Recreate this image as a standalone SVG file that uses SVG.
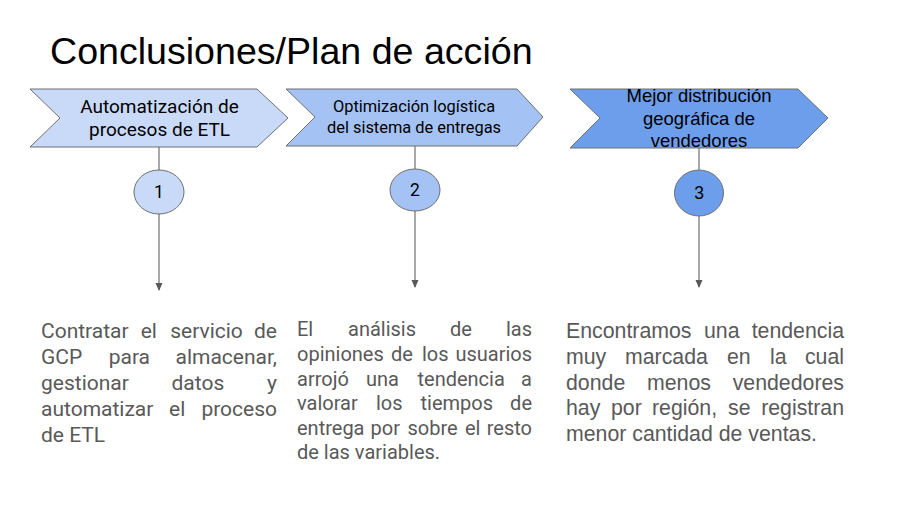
<svg xmlns="http://www.w3.org/2000/svg" width="909" height="505" viewBox="0 0 909 505">
<style>
.chev{stroke:#6f6f6f;stroke-width:1}
.c1{fill:#c9daf8}.c2{fill:#a4c2f4}.c3{fill:#6d9eeb}
.lbl{fill:#000;text-anchor:middle}
.rob{font-family:Roboto,"Liberation Sans",sans-serif}
.ari{font-family:"Liberation Sans",Arial,sans-serif}
.body{fill:#595959}
.conn line{stroke:#7a7a7a;stroke-width:1.3}
</style>
<defs>
<marker id="ah" markerWidth="8" markerHeight="8" refX="7" refY="4" orient="auto" markerUnits="userSpaceOnUse">
<path d="M0,0.5 L8,4 L0,7.5 Z" fill="#595959"/>
</marker>
</defs>
<rect width="909" height="505" fill="#fff"/>
<text x="50" y="64" class="ari" font-size="37.6" fill="#000">Conclusiones/Plan de acción</text>

<g class="conn">
<line x1="159" y1="147" x2="159" y2="170"/>
<line x1="159" y1="214" x2="159" y2="290" marker-end="url(#ah)"/>
<line x1="415" y1="146" x2="415" y2="169"/>
<line x1="415" y1="211" x2="415" y2="287" marker-end="url(#ah)"/>
<line x1="699" y1="148" x2="699" y2="170"/>
<line x1="699" y1="216" x2="699" y2="287" marker-end="url(#ah)"/>
</g>

<g id="step1">
<polygon class="chev c1" points="30,89 257,89 288,118 257,147 30,147 60,118"/>
<text class="lbl rob" font-size="19" x="159.5" y="113">Automatización de</text>
<text class="lbl rob" font-size="19" x="159.5" y="136">procesos de ETL</text>
</g>
<g id="step2">
<polygon class="chev c2" points="286,89 517,89 543,117 517,146 286,146 315,117"/>
<text class="lbl rob" font-size="16.4" x="414" y="112">Optimización logística</text>
<text class="lbl rob" font-size="16.4" x="414" y="133">del sistema de entregas</text>
</g>
<g id="step3">
<polygon class="chev c3" points="570,89 798,89 828,118 798,148 570,148 600,118"/>
<text class="lbl ari" font-size="18.5" x="699" y="102">Mejor distribución</text>
<text class="lbl ari" font-size="18.5" x="699" y="125">geográfica de</text>
<text class="lbl ari" font-size="18.5" x="699" y="147">vendedores</text>
</g>

<g id="num1">
<ellipse class="chev c1" cx="159" cy="192" rx="25" ry="22"/>
<text class="lbl rob" font-size="17.5" x="159" y="198">1</text>
</g>
<g id="num2">
<ellipse class="chev c2" cx="415" cy="190" rx="25" ry="21"/>
<text class="lbl rob" font-size="17.5" x="415" y="196">2</text>
</g>
<g id="num3">
<ellipse class="chev c3" cx="699" cy="193" rx="24.5" ry="23"/>
<text class="lbl ari" font-size="17.5" x="699" y="199">3</text>
</g>

<g id="desc1" class="rob body" font-size="21">
<text y="338"><tspan x="41">Contratar</tspan><tspan x="140.7">el</tspan><tspan x="170.2">servicio</tspan><tspan x="277" text-anchor="end">de</tspan></text>
<text y="364"><tspan x="41">GCP</tspan><tspan x="108.7">para</tspan><tspan x="277" text-anchor="end">almacenar,</tspan></text>
<text y="390"><tspan x="41">gestionar</tspan><tspan x="171.5">datos</tspan><tspan x="277" text-anchor="end">y</tspan></text>
<text y="416"><tspan x="41">automatizar</tspan><tspan x="169">el</tspan><tspan x="277" text-anchor="end">proceso</tspan></text>
<text y="442" x="41">de ETL</text>
</g>

<g id="desc2" class="rob body" font-size="20">
<text y="336"><tspan x="297">El</tspan><tspan x="348">análisis</tspan><tspan x="450">de</tspan><tspan x="532" text-anchor="end">las</tspan></text>
<text y="361"><tspan x="297">opiniones</tspan><tspan x="391">de</tspan><tspan x="422">los</tspan><tspan x="532" text-anchor="end">usuarios</tspan></text>
<text y="386"><tspan x="297">arrojó</tspan><tspan x="366">una</tspan><tspan x="417.5">tendencia</tspan><tspan x="532" text-anchor="end">a</tspan></text>
<text y="410"><tspan x="297">valorar</tspan><tspan x="376">los</tspan><tspan x="420.5">tiempos</tspan><tspan x="532" text-anchor="end">de</tspan></text>
<text y="435"><tspan x="297">entrega</tspan><tspan x="370.5">por</tspan><tspan x="407.5">sobre</tspan><tspan x="465">el</tspan><tspan x="532" text-anchor="end">resto</tspan></text>
<text y="459" x="297">de las variables.</text>
</g>

<g id="desc3" class="ari body" font-size="21.3">
<text y="338"><tspan x="566">Encontramos</tspan><tspan x="704">una</tspan><tspan x="844" text-anchor="end">tendencia</tspan></text>
<text y="364"><tspan x="566">muy</tspan><tspan x="625">marcada</tspan><tspan x="727">en</tspan><tspan x="770">la</tspan><tspan x="844" text-anchor="end">cual</tspan></text>
<text y="390"><tspan x="566">donde</tspan><tspan x="647">menos</tspan><tspan x="844" text-anchor="end">vendedores</tspan></text>
<text y="415"><tspan x="566">hay</tspan><tspan x="611">por</tspan><tspan x="652">región,</tspan><tspan x="728">se</tspan><tspan x="844" text-anchor="end">registran</tspan></text>
<text y="441" x="566">menor cantidad de ventas.</text>
</g>
</svg>
